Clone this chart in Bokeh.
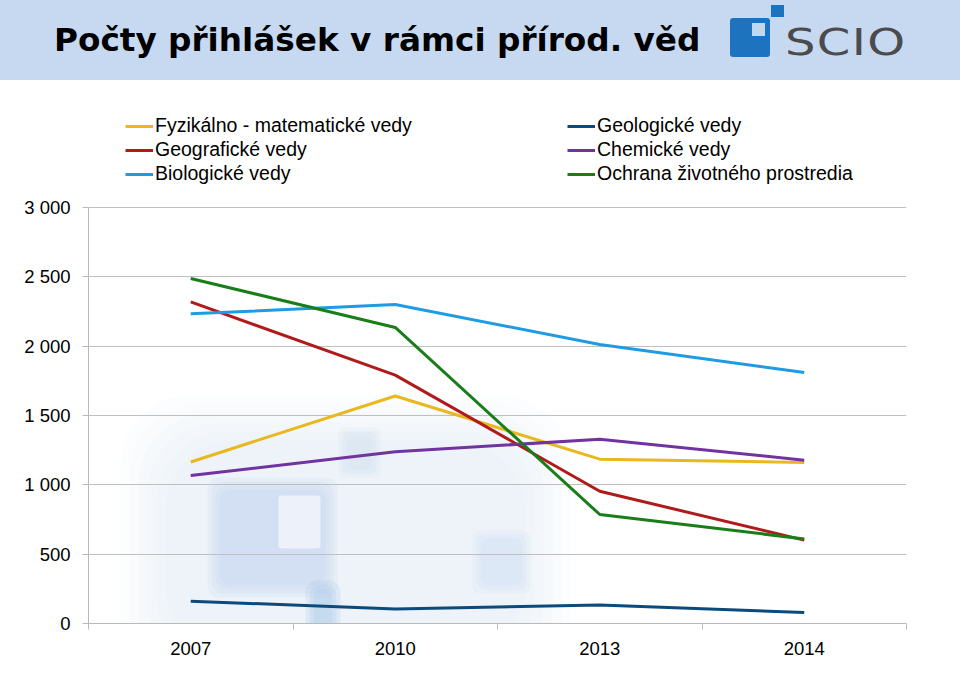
from bokeh.plotting import figure
from bokeh.models import (Range1d, FixedTicker, Legend, LegendItem, BoxAnnotation, Div)
from bokeh.layouts import column
from bokeh.embed import file_html
from bokeh.resources import INLINE

# ---------------- data ----------------
title_text = "Počty přihlášek v rámci přírod. věd"
logo_text = "SCIO"
years = ["2007", "2010", "2013", "2014"]
fyzikalno = [1165, 1641, 1185, 1161]
geograficke = [2319, 1791, 954, 601]
biologicke = [2233, 2300, 2012, 1810]
geologicke = [161, 105, 134, 79]
chemicke = [1067, 1238, 1329, 1178]
ochrana = [2488, 2135, 786, 610]
series_names = ["Fyzikálno - matematické vedy", "Geografické vedy", "Biologické vedy",
                "Geologické vedy", "Chemické vedy", "Ochrana životného prostredia"]
series_colors = ["#E9B81F", "#B01A1A", "#1F9BE3", "#0C4A7C", "#7133A0", "#197D1A"]
y_ticks = [0, 500, 1000, 1500, 2000, 2500, 3000]
y_tick_labels = ["0", "500", "1 000", "1 500", "2 000", "2 500", "3 000"]
y_max = 3000

FONT = "Liberation Sans"
BAR = "#C6D9F1"
LOGO_BLUE = "#1E73BE"

# ---------------- header bar (banner) ----------------
header_html = f"""
<div style="position:relative;width:960px;height:80px;background:{BAR};overflow:hidden;margin:0;padding:0;">
  <div style="position:absolute;left:54px;top:24px;font-family:'DejaVu Sans',sans-serif;
       font-weight:bold;font-size:32.7px;line-height:33px;color:#000;white-space:nowrap;">{title_text}</div>
  <div style="position:absolute;left:730px;top:18px;width:40px;height:39px;background:{LOGO_BLUE};border-radius:3px;"></div>
  <div style="position:absolute;left:752px;top:23px;width:13px;height:13px;background:#C3D6EC;"></div>
  <div style="position:absolute;left:771px;top:5px;width:13px;height:12px;background:{LOGO_BLUE};"></div>
  <div style="position:absolute;left:785px;top:24px;font-family:'DejaVu Sans',sans-serif;font-size:37px;
       line-height:37px;color:#4B4B4D;white-space:nowrap;letter-spacing:1px;
       transform:scaleX(1.3);transform-origin:0 0;">{logo_text}</div>
</div>
"""
hdr = Div(text=header_html, width=960, height=80, margin=0)

# ---------------- main chart ----------------
# plot frame spans from the top of this figure down to the value 0;
# the value axis itself (with ticks and gridlines) covers 0..3000 only,
# leaving room for the legend above it (as in the original).
FIG_H = 610
BOTTOM = 67
FRAME_H = FIG_H - BOTTOM
AXIS_PX = 416  # pixel height of 0..3000
y_end = y_max * FRAME_H / AXIS_PX

p = figure(width=960, height=FIG_H, x_range=Range1d(0, len(years)), y_range=Range1d(0, y_end),
           output_backend="svg", toolbar_location=None,
           min_border_left=88, min_border_right=54, min_border_top=0, min_border_bottom=BOTTOM)
p.outline_line_color = None
p.background_fill_color = "white"
p.border_fill_color = "white"

# soft watermark-like haze (decoration only)
def px2x(px):
    return (px - 88) / 204.5

def py2y(py):
    return (623 - py) / AXIS_PX * y_max

# (left, right, top, bottom, colour, alpha per layer, radius, layers, inset step)
haze = [
    (120, 570, 395, 700, "#D6E4F3", 0.07, 70, 6, 9),
    (207, 337, 477, 597, "#B9D0EB", 0.16, 12, 4, 4),
    (338, 380, 427, 477, "#C4D8EE", 0.16, 6, 3, 4),
    (305, 340, 580, 700, "#9FC1E5", 0.20, 12, 3, 4),
    (307, 473, 627, 700, "#D8E6F4", 0.18, 10, 3, 5),
    (472, 530, 530, 593, "#C9DCF0", 0.16, 8, 3, 4),
]
for l, r, t, b, c, a, rad, n, step in haze:
    for k in range(n):
        inset = step * k
        p.add_layout(BoxAnnotation(left=px2x(l + inset), right=px2x(r - inset),
                                   top=py2y(t + inset), bottom=py2y(b - inset),
                                   fill_color=c, fill_alpha=a, line_color=None,
                                   border_radius=rad, level="image"))
p.add_layout(BoxAnnotation(left=px2x(278), right=px2x(320), top=py2y(495), bottom=py2y(548),
                           fill_color="white", fill_alpha=0.6, line_color=None,
                           border_radius=3, level="image"))

xs = [i + 0.5 for i in range(len(years))]
all_series = [fyzikalno, geograficke, biologicke, geologicke, chemicke, ochrana]
renderers = []
for vals, col in zip(all_series, series_colors):
    r = p.line(x=xs, y=vals, line_color=col, line_width=3)
    renderers.append(r)

# axes
xax = p.xaxis[0]
xax.ticker = FixedTicker(ticks=xs, minor_ticks=list(range(len(years) + 1)))
xax.major_label_overrides = {x: y for x, y in zip(xs, years)}
xax.major_tick_out = 0
xax.major_tick_in = 0
xax.minor_tick_out = 6
xax.minor_tick_in = 0
xax.minor_tick_line_color = "#B9B9B9"
xax.axis_line_color = "#B9B9B9"
xax.major_label_standoff = 12
xax.major_label_text_font = FONT
xax.major_label_text_font_size = "18.5px"
xax.major_label_text_color = "#000000"

yax = p.yaxis[0]
yax.ticker = FixedTicker(ticks=y_ticks, minor_ticks=[])
yax.bounds = (0, y_max)
yax.major_label_overrides = {t: l for t, l in zip(y_ticks, y_tick_labels)}
yax.major_tick_out = 6
yax.major_tick_in = 0
yax.minor_tick_out = 0
yax.minor_tick_in = 0
yax.major_tick_line_color = "#B9B9B9"
yax.axis_line_color = "#B9B9B9"
yax.major_label_standoff = 12
yax.major_label_text_font = FONT
yax.major_label_text_font_size = "18.5px"
yax.major_label_text_color = "#000000"

p.xgrid.visible = False
p.ygrid.ticker = FixedTicker(ticks=y_ticks)
p.ygrid.grid_line_color = "#BFBFBF"
p.ygrid.grid_line_width = 1

# legends: two columns of three, in the space above the 3 000 line
def make_legend(idx, x):
    return Legend(items=[LegendItem(label=series_names[i], renderers=[renderers[i]]) for i in idx],
                  location=(x, 438), orientation="vertical", padding=0, margin=0, spacing=1,
                  glyph_width=28, glyph_height=22, label_height=22, label_standoff=2,
                  label_text_font=FONT, label_text_font_size="19.5px", label_text_color="#000000",
                  border_line_color=None, background_fill_alpha=0)

p.add_layout(make_legend([0, 1, 2], 37), "center")
p.add_layout(make_legend([3, 4, 5], 479), "center")

layout = column(hdr, p, spacing=0)
open("out.html", "w").write(file_html(layout, INLINE))
